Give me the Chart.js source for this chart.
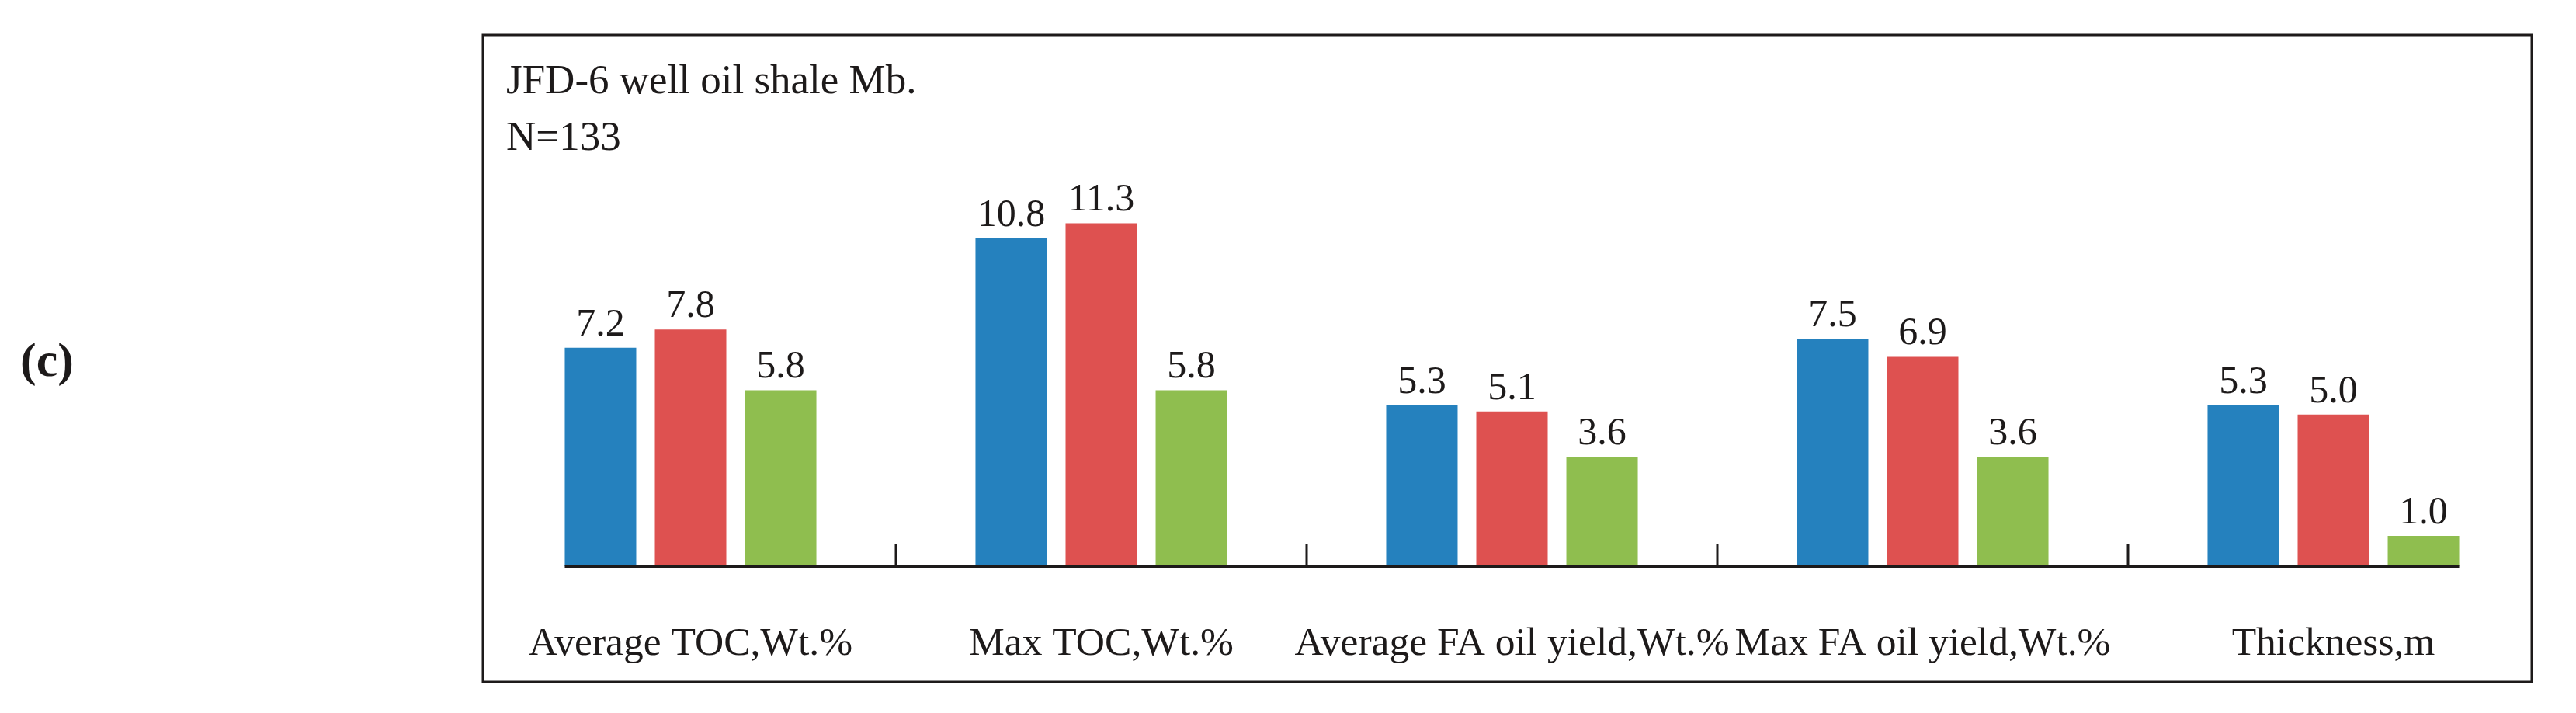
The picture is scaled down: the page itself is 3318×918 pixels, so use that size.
<!DOCTYPE html>
<html>
<head>
<meta charset="utf-8">
<script src="https://cdn.jsdelivr.net/npm/chart.js@4/dist/chart.umd.min.js"></script>
<style>
  html, body { margin: 0; padding: 0; background: #fff; }
  #wrap { width: 3318px; height: 918px; }
</style>
</head>
<body>
<div id="wrap"><canvas id="chart"></canvas></div>
<script>
// Dane wykresu
const categories = [
  "Average TOC,Wt.%",
  "Max TOC,Wt.%",
  "Average FA oil yield,Wt.%",
  "Max FA oil yield,Wt.%",
  "Thickness,m"
];
const seriesBlue = [7.2, 10.8, 5.3, 7.5, 5.3];
const seriesRed = [7.8, 11.3, 5.1, 6.9, 5.0];
const seriesGreen = [5.8, 5.8, 3.6, 3.6, 1.0];
const yMin = 0;
const yMax = 14;

const textColor = "#1d1a1a";
const serif = "'Liberation Serif', 'Times New Roman', serif";

// Ramka, tytuł, oś bazowa i etykiety wartości
const decorPlugin = {
  id: "decor",
  beforeDraw(chart) {
    const ctx = chart.ctx;
    ctx.save();
    ctx.fillStyle = "#fff";
    ctx.fillRect(0, 0, chart.width, chart.height);
    ctx.restore();
  },
  afterDatasetsDraw(chart) {
    const ctx = chart.ctx;
    const x = chart.scales.x;
    const y = chart.scales.y;
    const y0 = y.getPixelForValue(0);
    const first = chart.getDatasetMeta(0).data[0];
    const lastMeta = chart.getDatasetMeta(chart.data.datasets.length - 1);
    const last = lastMeta.data[lastMeta.data.length - 1];

    ctx.save();
    // linia bazowa
    ctx.strokeStyle = textColor;
    ctx.lineWidth = 4;
    ctx.beginPath();
    ctx.moveTo(first.x - first.width / 2, y0);
    ctx.lineTo(last.x + last.width / 2, y0);
    ctx.stroke();

    // znaczniki między kategoriami
    ctx.lineWidth = 3;
    for (let i = 0; i < categories.length - 1; i++) {
      const tx = (x.getPixelForValue(i) + x.getPixelForValue(i + 1)) / 2;
      ctx.beginPath();
      ctx.moveTo(tx, y0);
      ctx.lineTo(tx, y0 - 28);
      ctx.stroke();
    }

    // etykiety wartości
    ctx.fillStyle = textColor;
    ctx.font = "50px " + serif;
    ctx.textAlign = "center";
    ctx.textBaseline = "alphabetic";
    chart.data.datasets.forEach((ds, di) => {
      chart.getDatasetMeta(di).data.forEach((bar, i) => {
        ctx.fillText(ds.data[i].toFixed(1), bar.x, bar.y - 16);
      });
    });
    ctx.restore();
  },
  afterDraw(chart) {
    const ctx = chart.ctx;
    ctx.save();
    ctx.strokeStyle = textColor;
    ctx.lineWidth = 3;
    ctx.strokeRect(622, 45, 3261 - 622, 878 - 45);

    ctx.fillStyle = textColor;
    ctx.textAlign = "left";
    ctx.textBaseline = "alphabetic";
    ctx.font = "53px " + serif;
    ctx.fillText("JFD-6 well oil shale Mb.", 652, 120);
    ctx.fillText("N=133", 652, 193);

    ctx.font = "bold 62px " + serif;
    ctx.fillText("(c)", 26, 484);
    ctx.restore();
  }
};

new Chart(document.getElementById("chart").getContext("2d"), {
  type: "bar",
  data: {
    labels: categories,
    datasets: [
      { label: "A", data: seriesBlue, backgroundColor: "#2581be" },
      { label: "B", data: seriesRed, backgroundColor: "#de5150" },
      { label: "C", data: seriesGreen, backgroundColor: "#8fbe4f" }
    ]
  },
  options: {
    responsive: true,
    maintainAspectRatio: false,
    animation: false,
    devicePixelRatio: 1,
    layout: { padding: { left: 625, right: 48, top: 182, bottom: 59 } },
    datasets: {
      bar: { categoryPercentage: 0.658, barPercentage: 0.793, borderWidth: 0 }
    },
    plugins: {
      legend: { display: false },
      title: { display: false },
      tooltip: { enabled: false }
    },
    scales: {
      x: {
        offset: true,
        grid: { display: false, drawTicks: false },
        border: { display: false },
        afterFit(scale) { scale.height = 130; },
        ticks: {
          color: textColor,
          padding: 70,
          maxRotation: 0,
          autoSkip: false,
          font: { family: serif, size: 51.5 }
        }
      },
      y: {
        display: false,
        min: yMin,
        max: yMax
      }
    }
  },
  plugins: [decorPlugin]
});
</script>
</body>
</html>
